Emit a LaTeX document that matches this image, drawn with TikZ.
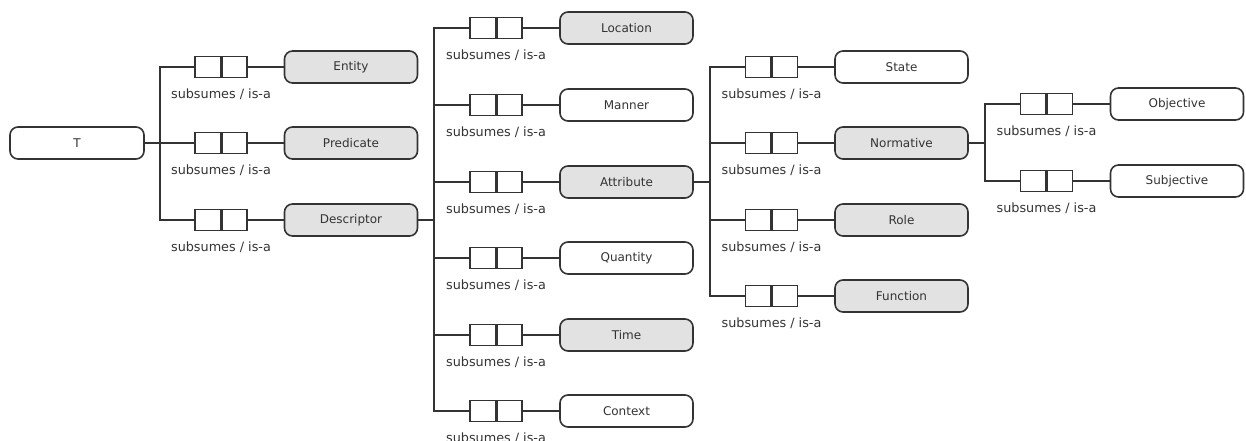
\documentclass[tikz,border=0pt]{standalone}
\usepackage{fontspec}
\setmainfont{DejaVu Sans}
\begin{document}
\definecolor{ink}{HTML}{333333}
\definecolor{shade}{HTML}{E2E2E2}
\begin{tikzpicture}[x=1pt,y=-1pt,
  concept/.style={draw=ink, line width=1.6pt, rounded corners=8pt,
    minimum width=133pt, minimum height=32pt, inner sep=0pt,
    font=\fontsize{12}{14}\selectfont, text=ink},
  filled/.style={concept, fill=shade},
  isa/.style={draw=ink, line width=1.6pt, minimum width=52pt, minimum height=21pt,
    inner sep=0pt, fill=white,
    path picture={\draw[ink, line width=3pt] (path picture bounding box.north) -- (path picture bounding box.south);},
    label={[font=\fontsize{12.8}{14}\selectfont, text=ink, inner sep=0pt, label distance=10pt]below:subsumes / is-a}},
  link/.style={draw=ink, line width=1.6pt}]
\useasboundingbox (0,0) rectangle (1246,441);

% root
\node[concept, minimum width=134pt] (T) at (77,143) {T};

% first level
\coordinate (b1) at (160,143);
\node[isa] (r-ent) at (221,67) {};
\node[isa] (r-pred) at (221,143) {};
\node[isa] (r-desc) at (221,220) {};
\node[filled] (ent) at (351,67) {Entity};
\node[filled] (pred) at (351,143) {Predicate};
\node[filled] (desc) at (351,220) {Descriptor};

% second level
\coordinate (b2) at (434,220);
\node[isa] (r-loc) at (496,28) {};
\node[isa] (r-man) at (496,105) {};
\node[isa] (r-attr) at (496,182) {};
\node[isa] (r-qty) at (496,258) {};
\node[isa] (r-time) at (496,335) {};
\node[isa] (r-ctx) at (496,411) {};
\node[filled] (loc) at (626.5,28) {Location};
\node[concept] (man) at (626.5,105) {Manner};
\node[filled] (attr) at (626.5,182) {Attribute};
\node[concept] (qty) at (626.5,258) {Quantity};
\node[filled] (time) at (626.5,335) {Time};
\node[concept] (ctx) at (626.5,411) {Context};

% third level
\coordinate (b3) at (710,182);
\node[isa] (r-state) at (771.5,67) {};
\node[isa] (r-norm) at (771.5,143) {};
\node[isa] (r-role) at (771.5,220) {};
\node[isa] (r-func) at (771.5,296) {};
\node[concept] (state) at (901.5,67) {State};
\node[filled] (norm) at (901.5,143) {Normative};
\node[filled] (role) at (901.5,220) {Role};
\node[filled] (func) at (901.5,296) {Function};

% fourth level
\coordinate (b4) at (985,143);
\node[isa] (r-obj) at (1046.5,104) {};
\node[isa] (r-subj) at (1046.5,181) {};
\node[concept] (obj) at (1177,104) {Objective};
\node[concept] (subj) at (1177,181) {Subjective};

% connectors: parent -> branch line -> relation box -> child
\draw[link] (T.east) -- (b1);
\foreach \r/\c in {r-ent/ent, r-pred/pred, r-desc/desc}
  \draw[link] (b1) |- (\r.west) (\r.east) -- (\c.west);
\draw[link] (desc.east) -- (b2);
\foreach \r/\c in {r-loc/loc, r-man/man, r-attr/attr, r-qty/qty, r-time/time, r-ctx/ctx}
  \draw[link] (b2) |- (\r.west) (\r.east) -- (\c.west);
\draw[link] (attr.east) -- (b3);
\foreach \r/\c in {r-state/state, r-norm/norm, r-role/role, r-func/func}
  \draw[link] (b3) |- (\r.west) (\r.east) -- (\c.west);
\draw[link] (norm.east) -- (b4);
\foreach \r/\c in {r-obj/obj, r-subj/subj}
  \draw[link] (b4) |- (\r.west) (\r.east) -- (\c.west);
\end{tikzpicture}
\end{document}
